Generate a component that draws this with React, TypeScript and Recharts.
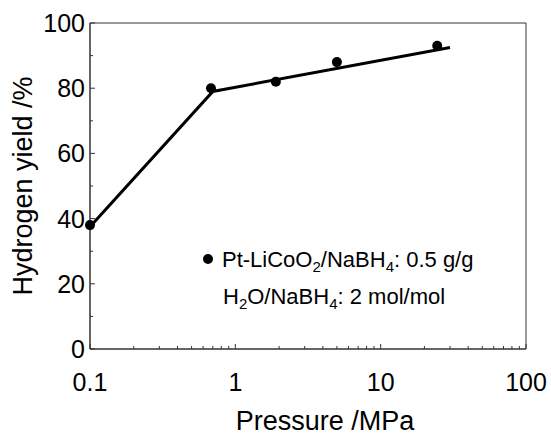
import React from "react";
import { ComposedChart, Line, Scatter, XAxis, YAxis, ReferenceArea, Legend } from "recharts";

// measured points
const pressure = [0.1, 0.68, 1.9, 5, 24.5];
const hydrogenYield = [38, 80, 82, 88, 93];

// piecewise fit line drawn through the points
const fitPressure = [0.1, 0.7, 30];
const fitYield = [37.5, 79, 92.5];

const xTicks = [
  0.1, 0.2, 0.3, 0.4, 0.5, 0.6, 0.7, 0.8, 0.9,
  1, 2, 3, 4, 5, 6, 7, 8, 9,
  10, 20, 30, 40, 50, 60, 70, 80, 90, 100,
];
const xLabels = [0.1, 1, 10, 100];
const yTicks = [0, 10, 20, 30, 40, 50, 60, 70, 80, 90, 100];
const yLabels = [0, 20, 40, 60, 80, 100];

const points = pressure.map((x, i) => ({ x, y: hydrogenYield[i] }));
const fit = fitPressure.map((x, i) => ({ x, y: fitYield[i] }));

const font = "'Liberation Sans', Arial, sans-serif";
const frame = "#333";

function XTick({ x, y, payload }: any) {
  const v = payload.value;
  const major = xLabels.includes(v);
  return (
    <g>
      <line x1={x} x2={x} y1={y} y2={y - (major ? 5 : 3)} stroke={frame} />
      {major && (
        <text x={x} y={y + 42} textAnchor="middle" fontSize={25} fill="#000">
          {v}
        </text>
      )}
    </g>
  );
}

function YTick({ x, y, payload }: any) {
  const v = payload.value;
  const major = yLabels.includes(v);
  return (
    <g>
      <line x1={x} x2={x + (major ? 5 : 3)} y1={y} y2={y} stroke={frame} />
      {major && (
        <text x={x - 5} y={y + 9} textAnchor="end" fontSize={25} fill="#000">
          {v}
        </text>
      )}
    </g>
  );
}

function LegendBox() {
  const sub: React.CSSProperties = { fontSize: 15, verticalAlign: "-5px", lineHeight: 0 };
  return (
    <div style={{ position: "relative", width: 320, height: 62, fontSize: 22, lineHeight: "24px", color: "#000", fontFamily: font }}>
      <span style={{ position: "absolute", left: 0, top: 6, width: 10, height: 10, borderRadius: 5, background: "#000" }} />
      <div style={{ position: "absolute", left: 19, top: 0, whiteSpace: "nowrap" }}>
        Pt-LiCoO<sub style={sub}>2</sub>/NaBH<sub style={sub}>4</sub>: 0.5 g/g
      </div>
      <div style={{ position: "absolute", left: 20, top: 37, whiteSpace: "nowrap" }}>
        H<sub style={sub}>2</sub>O/NaBH<sub style={sub}>4</sub>: 2 mol/mol
      </div>
    </div>
  );
}

export default function App() {
  return (
    <div style={{ position: "absolute", left: 0, top: 0, background: "#fff" }}>
      <ComposedChart
        width={551}
        height={433}
        margin={{ top: 23, right: 25, bottom: 0, left: 0 }}
        style={{ fontFamily: font }}
      >
        <XAxis
          dataKey="x"
          type="number"
          scale="log"
          domain={[0.1, 100]}
          ticks={xTicks}
          height={84}
          tickSize={0}
          tickMargin={0}
          tickLine={false}
          axisLine={{ stroke: frame }}
          tick={<XTick />}
          interval={0}
          label={{ value: "Pressure /MPa", position: "insideBottom", offset: 3, dx: 17, fontSize: 27, fill: "#000" }}
        />
        <YAxis
          type="number"
          domain={[0, 100]}
          ticks={yTicks}
          width={90}
          tickSize={0}
          tickMargin={0}
          tickLine={false}
          axisLine={{ stroke: frame }}
          tick={<YTick />}
          interval={0}
          label={{
            content: () => (
              <text x={32} y={186} transform="rotate(-90 32 186)" textAnchor="middle" fontSize={27} fill="#000">
                Hydrogen yield /%
              </text>
            ),
          }}
        />
        <ReferenceArea x1={0.1} x2={100} y1={0} y2={100} fill="none" stroke={frame} strokeWidth={1} />
        <Line
          data={fit}
          dataKey="y"
          type="linear"
          stroke="#000"
          strokeWidth={3}
          dot={false}
          legendType="none"
          isAnimationActive={false}
        />
        <Scatter
          data={points}
          dataKey="y"
          fill="#000"
          shape={(p: any) => <circle cx={p.cx} cy={p.cy} r={5} fill="#000" />}
          isAnimationActive={false}
        />
        <Legend
          layout="horizontal"
          verticalAlign="middle"
          align="center"
          wrapperStyle={{ left: 203, top: 248, width: 320 }}
          content={() => <LegendBox />}
        />
      </ComposedChart>
    </div>
  );
}
